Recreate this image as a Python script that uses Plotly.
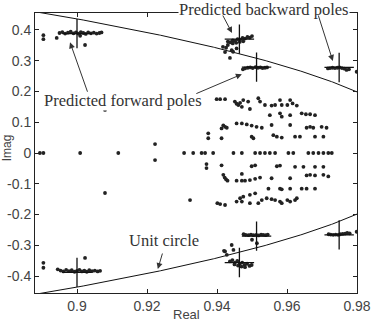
import numpy as np
import plotly.graph_objects as go

# ---- scattered pole estimates (real, imag) ----
pole_real = [
    # top-left cluster
    0.8904, 0.8904, 0.8942, 0.8950, 0.8958, 0.8966, 0.8974, 0.8982, 0.8990, 0.8997, 0.9004, 0.9011,
    0.9018, 0.9025, 0.9032, 0.9040, 0.9048, 0.9056, 0.9064, 0.9070, 0.9009, 0.9023,
    # bottom-left cluster
    0.8904, 0.8904, 0.8945, 0.8953, 0.8961, 0.8969, 0.8977, 0.8985, 0.8993, 0.9000, 0.9007, 0.9014,
    0.9021, 0.9028, 0.9035, 0.9043, 0.9051, 0.9059, 0.9066, 0.9023,
    # upper backward cluster
    0.9417, 0.9426, 0.9431, 0.9423, 0.9442, 0.9437, 0.9456, 0.9446,
    0.9431, 0.9438, 0.9445, 0.9452, 0.9459, 0.9466, 0.9473, 0.9480, 0.9487, 0.9494, 0.9500,
    0.9445, 0.9455, 0.9465, 0.9475,
    # lower backward cluster
    0.9423, 0.9428, 0.9442, 0.9447, 0.9420,
    0.9437, 0.9444, 0.9451, 0.9458, 0.9465, 0.9472, 0.9479, 0.9486, 0.9493, 0.9499,
    0.9450, 0.9460, 0.9470, 0.9480,
    # upper forward cluster
    0.9474, 0.9480, 0.9488, 0.9495, 0.9502, 0.9510, 0.9517, 0.9524, 0.9530, 0.9537, 0.9543,
    # lower forward cluster
    0.9476, 0.9482, 0.9490, 0.9497, 0.9504, 0.9512, 0.9519, 0.9526, 0.9532, 0.9539, 0.9545, 0.9500, 0.9514,
    # upper right cluster
    0.9717, 0.9723, 0.9730, 0.9737, 0.9744, 0.9750, 0.9757, 0.9764, 0.9770, 0.9777, 0.9799,
    # lower right cluster
    0.9719, 0.9725, 0.9732, 0.9739, 0.9746, 0.9752, 0.9759, 0.9766, 0.9772, 0.9779, 0.9799,
    # upper middle rows
    0.9399, 0.9409, 0.9423,
    0.9451, 0.9461, 0.9471, 0.9475, 0.9489, 0.9494, 0.9518, 0.9523, 0.9537, 0.9556, 0.9566,
    0.9580, 0.9585, 0.9601, 0.9609, 0.9616, 0.9628, 0.9456, 0.9466,
    0.9551, 0.9580, 0.9585, 0.9609, 0.9642, 0.9654, 0.9666, 0.9680,
    0.9413, 0.9418, 0.9423, 0.9428, 0.9456, 0.9471, 0.9485, 0.9499, 0.9513, 0.9528, 0.9556,
    0.9609, 0.9656, 0.9666, 0.9675, 0.9699, 0.9713,
    0.9375, 0.9375, 0.9413, 0.9499, 0.9504, 0.9561, 0.9571, 0.9585, 0.9623, 0.9637, 0.9680, 0.9704,
    0.9080, 0.9323, 0.9223,
    # real axis
    0.8894, 0.8904, 0.9009, 0.9118, 0.9306, 0.9332, 0.9356, 0.9366, 0.9389,
    0.9447, 0.9471, 0.9509, 0.9523, 0.9537, 0.9551, 0.9566, 0.9604, 0.9618,
    0.9661, 0.9675, 0.9690, 0.9704, 0.9718, 0.9728,
    # lower middle rows
    0.9370, 0.9370, 0.9413, 0.9499, 0.9509, 0.9571, 0.9580, 0.9623, 0.9647, 0.9680, 0.9704,
    0.9418, 0.9422, 0.9426, 0.9430, 0.9456, 0.9471, 0.9480, 0.9494, 0.9509, 0.9523, 0.9471,
    0.9556, 0.9609, 0.9656, 0.9666, 0.9680, 0.9704, 0.9718,
    0.9547, 0.9580, 0.9585, 0.9609, 0.9642, 0.9656, 0.9680,
    0.9456, 0.9466, 0.9475, 0.9471, 0.9494, 0.9509, 0.9494, 0.9518, 0.9528, 0.9542, 0.9556,
    0.9566, 0.9580, 0.9585, 0.9601, 0.9609, 0.9623, 0.9628, 0.9401, 0.9409, 0.9423,
    0.9080, 0.9323, 0.9223,
]
pole_imag = [
    0.383, 0.370, 0.374, 0.390, 0.393, 0.388, 0.391, 0.394, 0.389, 0.392, 0.388, 0.393,
    0.390, 0.387, 0.392, 0.389, 0.391, 0.388, 0.390, 0.392, 0.381, 0.351,
    -0.357, -0.373, -0.378, -0.382, -0.385, -0.380, -0.384, -0.381, -0.386, -0.383, -0.380, -0.385,
    -0.382, -0.386, -0.381, -0.384, -0.382, -0.385, -0.383, -0.341,
    0.345, 0.342, 0.351, 0.328, 0.334, 0.309, 0.340, 0.329,
    0.362, 0.360, 0.366, 0.364, 0.370, 0.368, 0.374, 0.372, 0.377, 0.375, 0.380,
    0.356, 0.358, 0.361, 0.363,
    -0.320, -0.331, -0.299, -0.315, -0.318,
    -0.352, -0.348, -0.356, -0.351, -0.360, -0.356, -0.364, -0.360, -0.367, -0.364,
    -0.362, -0.366, -0.369, -0.371,
    0.272, 0.275, 0.277, 0.278, 0.276, 0.279, 0.277, 0.278, 0.276, 0.277, 0.278,
    -0.264, -0.266, -0.267, -0.265, -0.267, -0.266, -0.268, -0.265, -0.266, -0.267, -0.265, -0.282, -0.293,
    0.275, 0.276, 0.277, 0.276, 0.277, 0.278, 0.276, 0.274, 0.270, 0.272, 0.264,
    -0.264, -0.265, -0.266, -0.265, -0.266, -0.264, -0.263, -0.262, -0.260, -0.261, -0.256,
    0.175, 0.175, 0.175,
    0.167, 0.156, 0.150, 0.172, 0.167, 0.143, 0.178, 0.167, 0.156, 0.154, 0.156,
    0.172, 0.156, 0.156, 0.172, 0.161, 0.154, 0.160, 0.163,
    0.123, 0.129, 0.118, 0.123, 0.129, 0.126, 0.126, 0.123,
    0.080, 0.090, 0.085, 0.082, 0.096, 0.096, 0.093, 0.089, 0.085, 0.082, 0.091,
    0.091, 0.082, 0.085, 0.082, 0.085, 0.082,
    0.064, 0.048, 0.048, 0.053, 0.048, 0.058, 0.053, 0.050, 0.053, 0.053, 0.053, 0.053,
    0.140, 0.150, 0.029,
    0.0, 0.0, 0.0, 0.0, 0.0, 0.0, 0.0, 0.0, 0.0,
    0.0, 0.0, 0.0, 0.0, 0.0, 0.0, 0.0, 0.0, 0.0,
    0.0, 0.0, 0.0, 0.0, 0.0, 0.0,
    -0.036, -0.049, -0.040, -0.043, -0.040, -0.043, -0.041, -0.045, -0.045, -0.045, -0.045,
    -0.071, -0.080, -0.086, -0.090, -0.090, -0.090, -0.090, -0.088, -0.084, -0.080, -0.068,
    -0.082, -0.082, -0.073, -0.071, -0.073, -0.071, -0.076,
    -0.116, -0.116, -0.118, -0.116, -0.116, -0.116, -0.116,
    -0.158, -0.147, -0.142, -0.158, -0.136, -0.131, -0.163, -0.163, -0.153, -0.147, -0.150,
    -0.153, -0.158, -0.163, -0.153, -0.158, -0.153, -0.147, -0.163, -0.166, -0.169,
    -0.130, -0.153, -0.023,
]

# ---- predicted poles (crosses) ----
pred_real = [0.9000, 0.9000, 0.9464, 0.9464, 0.9513, 0.9513, 0.9749, 0.9749]
pred_imag = [0.388, -0.388, 0.370, -0.356, 0.279, -0.270, 0.278, -0.266]

# axis settings
x_range = [0.888, 0.980]
y_range = [-0.455, 0.455]
x_ticks = [0.9, 0.92, 0.94, 0.96, 0.98]
x_labels = ["0.9", "0.92", "0.94", "0.96", "0.98"]
y_ticks = [0.4, 0.3, 0.2, 0.1, 0, -0.1, -0.2, -0.3, -0.4]
y_labels = ["0.4", "0.3", "0.2", "0.1", "0", "-0.1", "-0.2", "-0.3", "-0.4"]

# unit circle reference curve
circ_x = np.linspace(0.880, 0.985, 300)
circ_up = np.sqrt(1 - circ_x ** 2)

fig = go.Figure()
fig.add_trace(go.Scatter(x=circ_x, y=circ_up, mode="lines",
                         line=dict(color="#111", width=1), hoverinfo="skip"))
fig.add_trace(go.Scatter(x=circ_x, y=-circ_up, mode="lines",
                         line=dict(color="#111", width=1), hoverinfo="skip"))
fig.add_trace(go.Scatter(x=pole_real, y=pole_imag, mode="markers",
                         marker=dict(color="#222", size=3.8, line=dict(width=0))))
fig.add_trace(go.Scatter(x=pred_real, y=pred_imag, mode="markers",
                         marker=dict(symbol="cross-thin", size=21, color="#111",
                                     line=dict(color="#111", width=1.3))))

serif = "Liberation Serif, Times New Roman, serif"
sans = "Liberation Sans, Arial, sans-serif"

common = dict(xref="paper", yref="paper", xanchor="center", yanchor="middle", showarrow=False)
annotations = [
    dict(text="Predicted backward poles", x=0.712, y=1.013, borderpad=0,
         font=dict(family=serif, size=16.5, color="#333"), bgcolor="white", **common),
    dict(text="Predicted forward poles", x=0.272, y=0.686, borderpad=0,
         font=dict(family=serif, size=16.5, color="#333"), bgcolor="white", **common),
    dict(text="Unit circle", x=0.40, y=0.189,
         font=dict(family=serif, size=16.5, color="#333"), **common),
    dict(text="Real", x=0.469, y=-0.075,
         font=dict(family=sans, size=13, color="#444"), **common),
    dict(text="Imag", x=-0.086, y=0.518, textangle=-90,
         font=dict(family=sans, size=12, color="#444"), **common),
]
arrows = [
    (0.898, 0.360, 18, 51),
    (0.9471, 0.256, -47, 20),
    (0.9443, 0.390, -10, -19),
    (0.9731, 0.299, -15, -47),
    (0.9231, -0.377, 5, -17),
]
for hx, hy, axp, ayp in arrows:
    annotations.append(dict(text="", x=hx, y=hy, xref="x", yref="y", ax=axp, ay=ayp,
                            showarrow=True, arrowhead=2, arrowsize=1.2, arrowwidth=1,
                            arrowcolor="#333", standoff=0))

axis_common = dict(ticks="inside", ticklen=4, tickcolor="#222", showgrid=False, zeroline=False,
                   showline=True, linecolor="#222", linewidth=1, mirror="ticks",
                   automargin=False, tickfont=dict(family=sans, size=14, color="#444"))

fig.update_layout(
    width=379, height=322,
    margin=dict(l=35, r=22, t=13, b=29),
    plot_bgcolor="white", paper_bgcolor="white",
    showlegend=False,
    annotations=annotations,
    xaxis=dict(range=x_range, tickvals=x_ticks, ticktext=x_labels, **axis_common),
    yaxis=dict(range=y_range, tickvals=y_ticks, ticktext=y_labels, **axis_common),
)

fig.write_html("out.html")
